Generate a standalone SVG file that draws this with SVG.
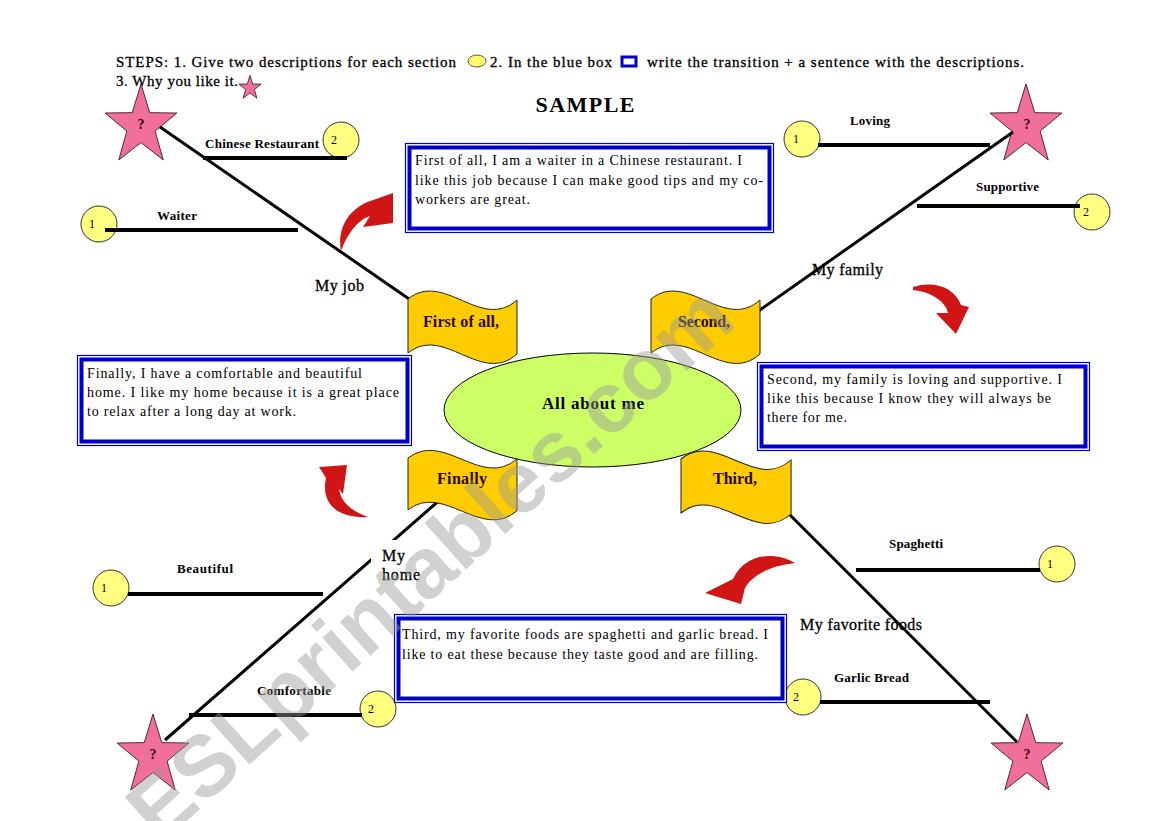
<svg xmlns="http://www.w3.org/2000/svg" width="1169" height="821" viewBox="0 0 1169 821">
<style>
text{font-family:"Liberation Serif","Times New Roman",serif;fill:#000}
.ins{font-size:15px;stroke:#000;stroke-width:0.3}
.lbl{font-size:13px;font-weight:bold}
.med{font-size:16px;stroke:#000;stroke-width:0.3}
.bx{font-size:14px}
.num{font-size:12px;text-anchor:middle}
.q{font-size:14px;font-weight:bold;text-anchor:middle;fill:#3a0000}
.flagt{font-size:16px;font-weight:bold;text-anchor:middle;fill:#2a0a00}
.circ{fill:#ffff80;stroke:#333;stroke-width:1}
.star{fill:#f0709a;stroke:#4a2030;stroke-width:1}
.flag{fill:#ffcc00;stroke:#222;stroke-width:1}
.outer{fill:#fff;stroke:#0000cc;stroke-width:1.2}
.inner{fill:none;stroke:#0000cc;stroke-width:4}
.ln{stroke:#000;stroke-width:3;fill:none}
.hl{stroke:#000;stroke-width:4;fill:none}
.arr{fill:#d01515}
.wm{font-family:"Liberation Sans",Arial,sans-serif;font-size:86px;font-weight:bold;fill:#999;fill-opacity:0.45}
</style>
<defs>
<polygon id="starShape" points="0,-42 9.7,-13.35 39.94,-12.98 15.69,5.1 24.69,33.98 0,16.5 -24.69,33.98 -15.69,5.1 -39.94,-12.98 -9.7,-13.35"/>
<path id="flagShape" d="M0,0 C36,-29 73,33 109,1 L109,55 C73,87 36,25 0,54 Z"/>
</defs>
<rect width="1169" height="821" fill="#fff"/>

<g id="instructions">
<text class="ins" x="116" y="66.5" textLength="340" lengthAdjust="spacing">STEPS:  1. Give two descriptions for each section</text>
<ellipse cx="477" cy="61" rx="9" ry="6" fill="#ffff66" stroke="#555" stroke-width="1"/>
<text class="ins" x="490" y="66.5" textLength="122" lengthAdjust="spacing">2. In the blue box</text>
<rect x="622" y="57" width="14" height="9" fill="none" stroke="#0000cc" stroke-width="3"/>
<text class="ins" x="647" y="66.5" textLength="377" lengthAdjust="spacing">write the transition +  a sentence with the descriptions.</text>
<text class="ins" x="116" y="86" textLength="122" lengthAdjust="spacing">3. Why you like it.</text>
<use href="#starShape" class="star" transform="translate(250,88) scale(0.28,0.3)" style="stroke-width:3"/>
<text x="585" y="112" font-size="22" font-weight="bold" text-anchor="middle" textLength="99" lengthAdjust="spacing">SAMPLE</text>
</g>

<g id="circles">
<g id="c-chinese"><circle class="circ" cx="341" cy="140" r="18"/><text class="num" x="334" y="143.5">2</text></g>
<g id="c-waiter"><circle class="circ" cx="99" cy="224" r="18"/><text class="num" x="92" y="228">1</text></g>
<g id="c-loving"><circle class="circ" cx="802" cy="139" r="18"/><text class="num" x="796" y="143">1</text></g>
<g id="c-supportive"><circle class="circ" cx="1092" cy="212" r="18"/><text class="num" x="1086" y="216">2</text></g>
<g id="c-beautiful"><circle class="circ" cx="111" cy="588" r="18"/><text class="num" x="104" y="592">1</text></g>
<g id="c-comfortable"><circle class="circ" cx="378" cy="709" r="18"/><text class="num" x="371" y="713">2</text></g>
<g id="c-spaghetti"><circle class="circ" cx="1057" cy="564" r="18"/><text class="num" x="1050" y="568">1</text></g>
<g id="c-garlic"><circle class="circ" cx="803" cy="697" r="18"/><text class="num" x="796" y="701">2</text></g>
</g>

<g id="stars">
<g id="star-tl"><use href="#starShape" class="star" transform="translate(141,126) scale(0.9,1)"/><text class="q" x="141" y="129">?</text></g>
<g id="star-tr"><use href="#starShape" class="star" transform="translate(1026,126) scale(0.9,1)"/><text class="q" x="1027" y="129">?</text></g>
<g id="star-bl"><use href="#starShape" class="star" transform="translate(153,756) scale(0.9,1)"/><text class="q" x="153" y="759">?</text></g>
<g id="star-br"><use href="#starShape" class="star" transform="translate(1027,756) scale(0.9,1)"/><text class="q" x="1027" y="759">?</text></g>
</g>

<g id="connectors">
<line class="ln" x1="160" y1="127" x2="412" y2="301"/>
<line class="hl" x1="203" y1="158" x2="347" y2="158"/>
<line class="hl" x1="105" y1="230" x2="298" y2="230"/>
<line class="ln" x1="757" y1="312" x2="1013" y2="132"/>
<line class="hl" x1="818" y1="145" x2="990" y2="145"/>
<line class="hl" x1="917" y1="206" x2="1080" y2="206"/>
<line class="ln" x1="442" y1="498" x2="165" y2="740"/>
<line class="hl" x1="128" y1="594" x2="323" y2="594"/>
<line class="hl" x1="189" y1="715" x2="362" y2="715"/>
<line class="ln" x1="786" y1="511" x2="1017" y2="742"/>
<line class="hl" x1="856" y1="570" x2="1040" y2="570"/>
<line class="hl" x1="820" y1="702" x2="990" y2="702"/>
</g>

<g id="center">
<ellipse cx="592.5" cy="410" rx="148.5" ry="57" fill="#ccff66" stroke="#000" stroke-width="1"/>
<text x="593" y="409" font-size="17" font-weight="bold" text-anchor="middle" textLength="102" lengthAdjust="spacing">All about me</text>
</g>

<g id="flag-first"><use href="#flagShape" class="flag" transform="translate(408,299)"/><text class="flagt" x="461" y="327" textLength="76" lengthAdjust="spacing">First of all,</text></g>
<g id="flag-second"><use href="#flagShape" class="flag" transform="translate(651,299)"/><text class="flagt" x="704" y="327" textLength="52" lengthAdjust="spacing">Second,</text></g>
<g id="flag-finally"><use href="#flagShape" class="flag" transform="translate(408,458) scale(1,0.96)"/><text class="flagt" x="462" y="484" textLength="50" lengthAdjust="spacing">Finally</text></g>
<g id="flag-third"><use href="#flagShape" class="flag" transform="translate(681,459) scale(1.01,1)"/><text class="flagt" x="735" y="484" textLength="44" lengthAdjust="spacing">Third,</text></g>

<g id="box-first">
<rect class="outer" x="405.5" y="143.5" width="368" height="89"/>
<rect class="inner" x="409.5" y="147.5" width="360" height="81"/>
<text class="bx" x="415" y="165" textLength="327" lengthAdjust="spacing">First of all, I am a  waiter in a Chinese restaurant. I</text>
<text class="bx" x="415" y="185" textLength="348" lengthAdjust="spacing">like this job because I can make good tips and my co-</text>
<text class="bx" x="415" y="204" textLength="115" lengthAdjust="spacing">workers are great.</text>
</g>
<g id="box-finally">
<rect class="outer" x="77.5" y="355.5" width="334" height="90"/>
<rect class="inner" x="81.5" y="359.5" width="326" height="82"/>
<text class="bx" x="87" y="378" textLength="275" lengthAdjust="spacing">Finally, I have a comfortable and beautiful</text>
<text class="bx" x="87" y="397" textLength="312" lengthAdjust="spacing">home. I like my home because it is a great place</text>
<text class="bx" x="87" y="416" textLength="209" lengthAdjust="spacing">to relax after a long day at work.</text>
</g>
<g id="box-second">
<rect class="outer" x="757.5" y="362.5" width="332" height="88"/>
<rect class="inner" x="761.5" y="366.5" width="324" height="80"/>
<text class="bx" x="767" y="384" textLength="295" lengthAdjust="spacing">Second, my family is loving and supportive. I</text>
<text class="bx" x="767" y="403" textLength="284" lengthAdjust="spacing">like this because I know they will always be</text>
<text class="bx" x="767" y="422" textLength="80" lengthAdjust="spacing">there for me.</text>
</g>
<g id="box-third">
<rect class="outer" x="394.5" y="614.5" width="392" height="88"/>
<rect class="inner" x="398.5" y="618.5" width="384" height="80"/>
<text class="bx" x="402" y="639" textLength="366" lengthAdjust="spacing">Third, my favorite foods are spaghetti and garlic bread. I</text>
<text class="bx" x="402" y="659" textLength="356" lengthAdjust="spacing">like to eat these because they taste good and are filling.</text>
</g>

<g id="arrows">
<path class="arr" d="M341,251 C337,228 348,207 376,199 L393,193 L393,223 L363,227 L370,216 C357,220 347,235 341,251 Z"/>
<path class="arr" d="M913,287 C935,280 955,288 961,305 L969,307 L956,334 L936,313 L948,313 C945,300 930,292 913,290 Z"/>
<path class="arr" d="M795,563 C775,551 745,553 733,579 L705,593 L741,604 L745,588 C752,575 770,566 795,563 Z"/>
<path class="arr" d="M319,467 L347,465 L343,494 L339,489 C341,503 352,511 368,517 C340,519 320,505 326,478 Z"/>
</g>

<g id="labels">
<text class="lbl" x="205" y="148" textLength="114" lengthAdjust="spacing">Chinese Restaurant</text>
<text class="lbl" x="157" y="220" textLength="40" lengthAdjust="spacing">Waiter</text>
<text class="med" x="315" y="291" textLength="49" lengthAdjust="spacing">My job</text>
<text class="lbl" x="850" y="125" textLength="40" lengthAdjust="spacing">Loving</text>
<text class="lbl" x="976" y="191" textLength="63" lengthAdjust="spacing">Supportive</text>
<text class="med" x="812" y="275" textLength="71" lengthAdjust="spacing">My family</text>
<text class="lbl" x="177" y="573" textLength="56" lengthAdjust="spacing">Beautiful</text>
<text class="lbl" x="257" y="695" textLength="74" lengthAdjust="spacing">Comfortable</text>
<rect x="371" y="540" width="56" height="48" fill="#fff"/>
<text class="med" x="382" y="561" textLength="23" lengthAdjust="spacing">My</text>
<text class="med" x="382" y="580" textLength="38" lengthAdjust="spacing">home</text>
<text class="lbl" x="889" y="548" textLength="54" lengthAdjust="spacing">Spaghetti</text>
<text class="lbl" x="834" y="682" textLength="75" lengthAdjust="spacing">Garlic Bread</text>
<text class="med" x="800" y="630" textLength="122" lengthAdjust="spacing">My favorite foods</text>
</g>

<text class="wm" x="160" y="845" transform="rotate(-42 160 845)">ESLprintables.com</text>
</svg>
